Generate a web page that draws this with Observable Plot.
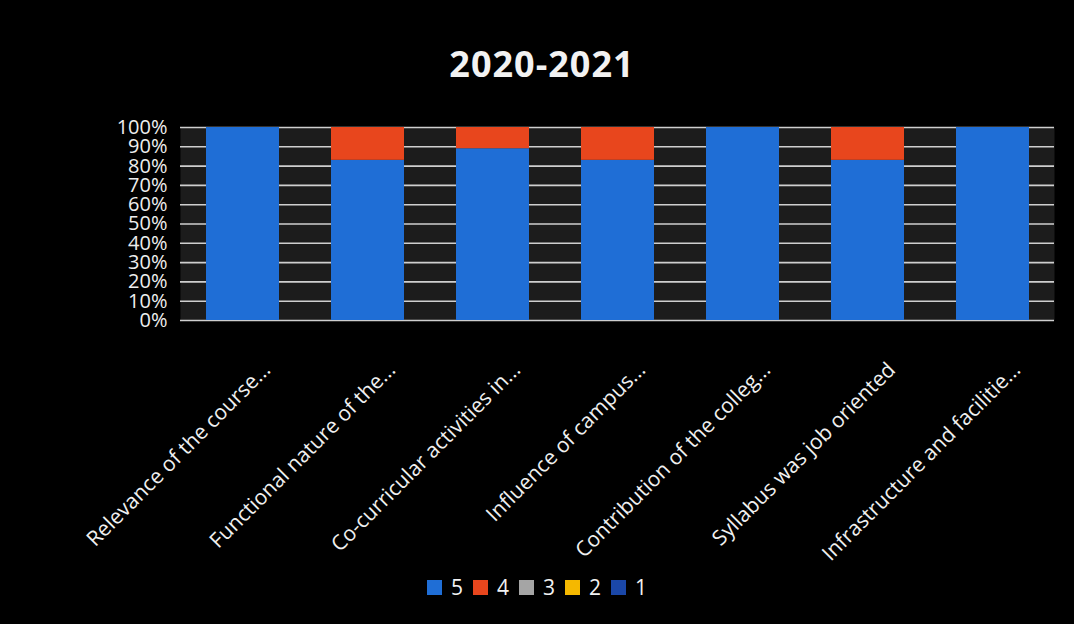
<!DOCTYPE html>
<html>
<head>
<meta charset="utf-8">
<script src="https://cdn.jsdelivr.net/npm/d3@7"></script>
<script src="https://cdn.jsdelivr.net/npm/@observablehq/plot@0.6"></script>
<style>
  html, body { margin: 0; padding: 0; background: #000; }
  body { width: 1074px; height: 624px; overflow: hidden; font-family: "Open Sans", sans-serif; color: #f2f2f2; }
  #title { height: 95px; box-sizing: border-box; padding-top: 44px; text-align: center; font-size: 36px; line-height: 40px; font-weight: bold; letter-spacing: 1px; padding-left: 10px; }
  #legend { display: flex; justify-content: center; align-items: center; margin-top: 8px; font-size: 21px; }
  .li { display: flex; align-items: center; margin: 0 5px; }
  .sw { width: 15px; height: 15px; margin-right: 9px; }
</style>
</head>
<body>
<div id="title">2020-2021</div>
<div id="chart"></div>
<div id="legend"></div>
<script>
const categories = [
  "Relevance of the course...",
  "Functional nature of the...",
  "Co-curricular activities in...",
  "Influence of campus...",
  "Contribution of the colleg...",
  "Syllabus was job oriented",
  "Infrastructure and facilitie..."
];
const ratings = ["5", "4", "3", "2", "1"];
const rating5 = [100, 83, 89, 83, 100, 83, 100];
const rating4 = [0, 17, 11, 17, 0, 17, 0];
const rating3 = [0, 0, 0, 0, 0, 0, 0];
const rating2 = [0, 0, 0, 0, 0, 0, 0];
const rating1 = [0, 0, 0, 0, 0, 0, 0];
const ratingColors = ["#1f6ed6", "#e8461d", "#a5a5a5", "#f5b800", "#1a47a8"];
const yTicks = [0, 10, 20, 30, 40, 50, 60, 70, 80, 90, 100];

const seriesValues = [rating5, rating4, rating3, rating2, rating1];
const rows = [];
ratings.forEach((r, i) => {
  categories.forEach((c, j) => rows.push({category: c, rating: r, value: seriesValues[i][j]}));
});

const chart = Plot.plot({
  width: 1074,
  height: 470,
  marginTop: 32,
  marginBottom: 245,
  marginLeft: 180,
  marginRight: 20,
  style: {background: "transparent", color: "#eeeeee", fontFamily: "Open Sans, sans-serif", fontSize: "20px"},
  x: {domain: categories, paddingInner: 0.42, paddingOuter: 0.19, axis: null},
  y: {domain: [0, 100], ticks: yTicks, tickFormat: d => d + "%", tickSize: 0, tickPadding: 13, label: null},
  color: {domain: ratings, range: ratingColors},
  marks: [
    Plot.frame({fill: "#1c1c1c", stroke: null}),
    Plot.ruleY(yTicks, {stroke: "#cfcfcf", strokeWidth: 1.6}),
    Plot.barY(rows, {x: "category", y: "value", fill: "rating", order: null}),
    Plot.text(categories, {x: d => d, y: 0, text: d => d, rotate: -45, textAnchor: "end", lineAnchor: "top", dx: 18, dy: 40, fill: "#f0f0f0", fontSize: 21})
  ]
});
document.getElementById("chart").appendChild(chart);

const legend = document.getElementById("legend");
ratings.forEach((r, i) => {
  const item = document.createElement("div");
  item.className = "li";
  const sw = document.createElement("span");
  sw.className = "sw";
  sw.style.background = ratingColors[i];
  const t = document.createElement("span");
  t.textContent = r;
  item.appendChild(sw);
  item.appendChild(t);
  legend.appendChild(item);
});
</script>
</body>
</html>
